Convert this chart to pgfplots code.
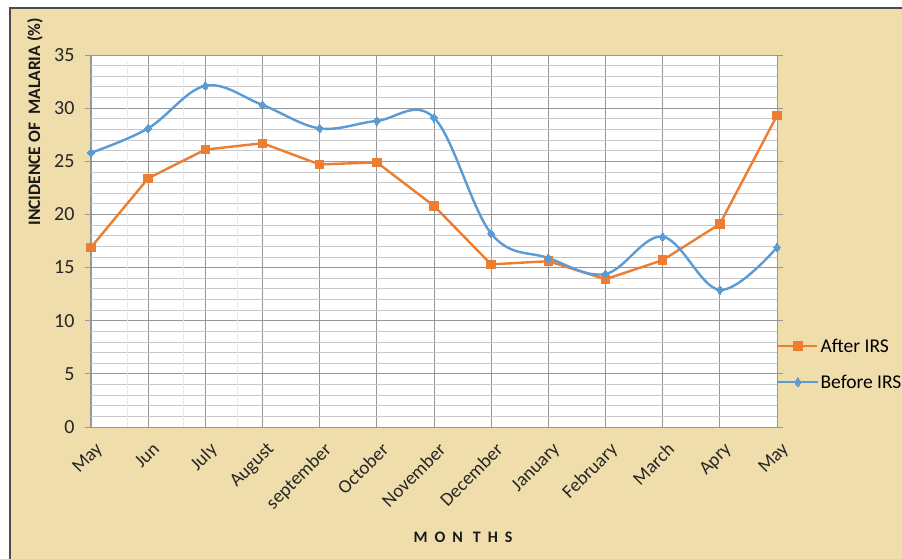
\documentclass[border=0pt]{standalone}
\usepackage{pgfplots}
\pgfplotsset{compat=1.18}
\usepackage{fontspec}
\setmainfont{Carlito}
\definecolor{parch}{RGB}{240,221,172}
\definecolor{xlorange}{RGB}{237,125,49}
\definecolor{xlblue}{RGB}{91,155,213}
\definecolor{majgrid}{RGB}{150,150,150}
\definecolor{mingrid}{RGB}{200,200,200}
\begin{document}
\begin{tikzpicture}
\useasboundingbox (0pt,0pt) rectangle (902pt,-559pt);
\clip (0pt,0pt) rectangle (902pt,-559pt);
\fill[white] (0pt,0pt) rectangle (902pt,-559pt);
\fill[parch] (10pt,-8pt) rectangle (902pt,-559pt);
\draw[black!70, line width=1.5pt] (10pt,-559pt) -- (10pt,-8pt) -- (902pt,-8pt);
\begin{axis}[
  at={(91pt,-427pt)}, anchor=south west,
  scale only axis, width=686pt, height=372pt,
  xmin=0, xmax=12, ymin=0, ymax=35,
  axis background/.style={fill=white},
  /pgf/number format/assume math mode=true,
  xtick={0,...,12},
  xticklabels={May,Jun,July,August,september,October,November,December,January,February,March,Apry,May},
  xticklabel style={rotate=45, anchor=north east, xshift=0pt, yshift=-5pt, font=\fontsize{19}{22}\selectfont, text=black!85},
  ytick={0,5,...,35},
  minor ytick={0,1,...,35},
  yticklabel style={font=\fontsize{20}{24}\selectfont, text=black!85, xshift=-7pt},
  xmajorgrids, ymajorgrids, yminorgrids,
  major grid style={majgrid, line width=0.8pt},
  minor grid style={mingrid, line width=0.8pt},
  axis line style={majgrid, line width=1pt},
  x tick style={draw=none},
  y tick style={majgrid, line width=0.8pt},
  major tick length=6pt, minor tick length=0pt,
  tick align=outside,
  legend style={at={(1.0,0.169)}, anchor=west, draw=none, fill=none,
    font=\fontsize{19.5}{23}\selectfont, row sep=17pt, inner xsep=0pt,
    legend cell align=left},
  legend image code/.code={\draw[mark repeat=2, mark phase=2] plot coordinates {(0pt,0pt) (19.5pt,0pt) (39pt,0pt)};},
  clip=false,
]
\draw[black!8, line width=1pt] (axis cs:0.64,0) -- (axis cs:0.64,34.3);
\draw[black!8, line width=1pt] (axis cs:1.61,0) -- (axis cs:1.61,34.3);
\draw[black!8, line width=1pt] (axis cs:2.57,0) -- (axis cs:2.57,34.3);
\addplot[xlorange, line width=2.4pt, mark=square*, mark size=4.2pt, mark options={line width=0pt}]
  coordinates {(0,16.9) (1,23.4) (2,26.1) (3,26.7) (4,24.7) (5,24.9) (6,20.8) (7,15.3) (8,15.6) (9,13.9) (10,15.7) (11,19.1) (12,29.3)};
\addlegendentry{After IRS}
\addplot[xlblue, line width=2.4pt, smooth, tension=0.6, mark=diamond*, mark size=4.5pt, mark options={line width=0pt}]
  coordinates {(0,25.8) (1,28.1) (2,32.1) (3,30.3) (4,28.1) (5,28.8) (6,29.1) (7,18.2) (8,15.9) (9,14.4) (10,17.9) (11,12.9) (12,16.9)};
\addlegendentry{Before IRS}
\end{axis}
\node[rotate=90, anchor=east, inner sep=0pt, font=\bfseries\fontsize{17.5}{21}\selectfont, text=black!90] at (35pt,-18pt) {INCIDENCE OF\ \ MALARIA (\%)};
\node[font=\bfseries\fontsize{16}{18}\selectfont, text=black!90] at (463pt,-537pt) {M\hspace{7pt}O\hspace{7pt}N\hspace{10pt}T\hspace{7pt}H\hspace{7pt}S};
\end{tikzpicture}
\end{document}
